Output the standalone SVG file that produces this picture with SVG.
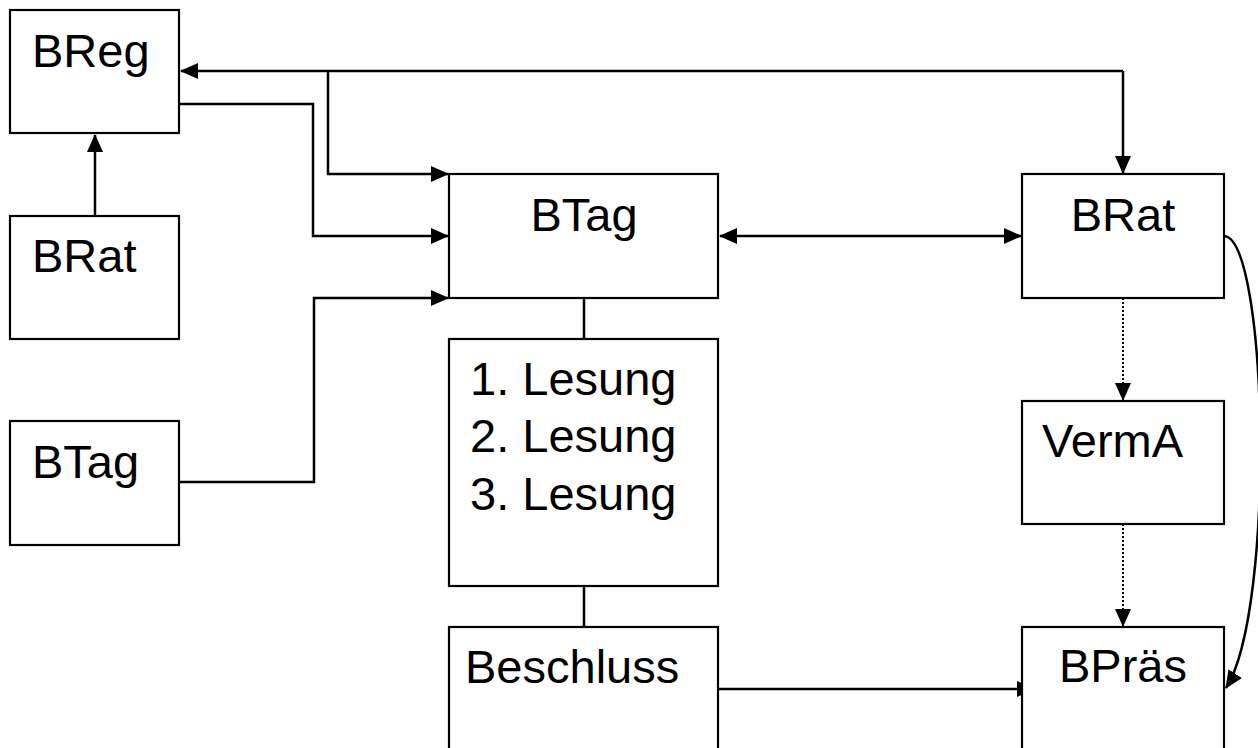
<svg xmlns="http://www.w3.org/2000/svg" width="1258" height="748" viewBox="0 0 1258 748">
<defs>
<marker id="arr" markerUnits="userSpaceOnUse" markerWidth="18" markerHeight="16" refX="17" refY="8" orient="auto-start-reverse">
<path d="M0,0 L18,8 L0,16 z" fill="#000"/>
</marker>
</defs>
<style>
.box{fill:#fff;stroke:#000;stroke-width:2.2}
.t{font-family:"Liberation Sans",Arial,sans-serif;font-size:47px;fill:#000}
.c{fill:none;stroke:#000;stroke-width:2.5}
.d{fill:none;stroke:#000;stroke-width:2;stroke-dasharray:2 2}
</style>
<rect width="1258" height="748" fill="#fff"/>
<g id="connectors">
<path class="c" d="M1123,71 L181,71" marker-end="url(#arr)"/>
<path class="c" d="M1123,71 L1123,173" marker-end="url(#arr)"/>
<path class="c" d="M328,71 L328,174 L448,174" marker-end="url(#arr)"/>
<path class="c" d="M179,104 L313,104 L313,236 L448,236" marker-end="url(#arr)"/>
<path class="c" d="M179,482 L314,482 L314,298 L448,298" marker-end="url(#arr)"/>
<path class="c" d="M95,216 L95,135" marker-end="url(#arr)"/>
<path class="c" d="M720,236 L1021,236" marker-start="url(#arr)" marker-end="url(#arr)"/>
<path class="c" d="M584,298 L584,339 M584,586 L584,627"/>
<path class="c" d="M718,689 L1034,689" marker-end="url(#arr)"/>
<path class="d" d="M1123,298 L1123,400" marker-end="url(#arr)"/>
<path class="d" d="M1123,524 L1123,626" marker-end="url(#arr)"/>
<path class="c" d="M1224,236 C1268,238 1276,610 1226,688" marker-end="url(#arr)"/>
</g>
<g id="breg"><rect class="box" x="10" y="10" width="169" height="123"/><text class="t" x="32" y="67">BReg</text></g>
<g id="brat-left"><rect class="box" x="10" y="216" width="169" height="123"/><text class="t" x="32" y="272">BRat</text></g>
<g id="btag-left"><rect class="box" x="10" y="421" width="169" height="124"/><text class="t" x="32" y="478">BTag</text></g>
<g id="btag"><rect class="box" x="449" y="174" width="269" height="124"/><text class="t" x="584" y="231" text-anchor="middle">BTag</text></g>
<g id="lesung"><rect class="box" x="449" y="339" width="269" height="247"/>
<text class="t" x="470" y="395">1. Lesung</text><text class="t" x="470" y="452">2. Lesung</text><text class="t" x="470" y="510">3. Lesung</text></g>
<g id="beschluss"><rect class="box" x="449" y="627" width="269" height="130"/><text class="t" x="465" y="683">Beschluss</text></g>
<g id="brat"><rect class="box" x="1022" y="174" width="202" height="124"/><text class="t" x="1123" y="231" text-anchor="middle">BRat</text></g>
<g id="verma"><rect class="box" x="1022" y="401" width="202" height="123"/><text class="t" x="1042" y="457">VermA</text></g>
<g id="bpraes"><rect class="box" x="1022" y="627" width="202" height="130"/><text class="t" x="1059" y="682">BPräs</text></g>
</svg>
